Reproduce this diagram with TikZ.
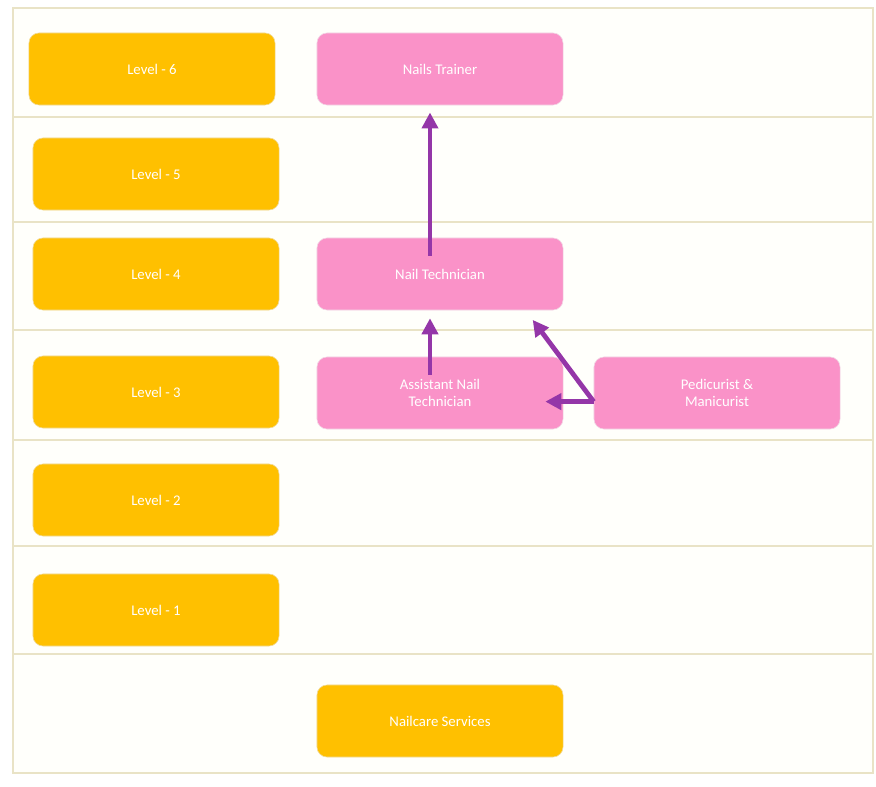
\documentclass[tikz,border=0pt]{standalone}
\usepackage{fontspec}
\setmainfont{Carlito}
\usetikzlibrary{positioning,arrows.meta}

\definecolor{levelorange}{HTML}{FFC000}
\definecolor{jobpink}{HTML}{FA92C8}
\definecolor{pathpurple}{HTML}{9436A8}
\definecolor{gridline}{HTML}{E9E3C6}

\begin{document}
\begin{tikzpicture}[x=0.025cm, y=-0.025cm,
        levelnode/.style={rectangle, rounded corners=0.25cm, fill=levelorange, draw=levelorange!85!black!40, thin, text=white, font=\fontsize{10.5}{12.5}\selectfont, minimum width=6.15cm, minimum height=1.8cm, align=center},
        jobnode/.style={levelnode, fill=jobpink, draw=jobpink!85!black!30},
        growth/.style={draw=pathpurple, line width=3.4pt, -{Triangle[length=0.4cm, width=0.4cm]}}]

        \useasboundingbox (0,0) rectangle (876,787);

        % frame of the table
        \fill[white!98.5!yellow] (13,8) rectangle (873,773);
        \draw[gridline, line width=1.4pt] (13,8) rectangle (873,773);
        \draw[gridline, line width=1.4pt] (13,117) -- (873,117);
        \draw[gridline, line width=1.4pt] (13,222) -- (873,222);
        \draw[gridline, line width=1.4pt] (13,330) -- (873,330);
        \draw[gridline, line width=1.4pt] (13,440) -- (873,440);
        \draw[gridline, line width=1.4pt] (13,546) -- (873,546);
        \draw[gridline, line width=1.4pt] (13,654) -- (873,654);

        % levels
        \node[levelnode] (lev6) at (152,69) {Level - 6};
        \node[levelnode] (lev5) at (156,174) {Level - 5};
        \node[levelnode] (lev4) at (156,274) {Level - 4};
        \node[levelnode] (lev3) at (156,392) {Level - 3};
        \node[levelnode] (lev2) at (156,500) {Level - 2};
        \node[levelnode] (lev1) at (156,610) {Level - 1};

        % jobs
        \node[jobnode] (trainer) at (440,69) {Nails Trainer};
        \node[jobnode] (tech) at (440,274) {Nail Technician};
        \node[jobnode] (assist) at (440,393) {Assistant Nail\\Technician};
        \node[jobnode] (pedi) at (717,393) {Pedicurist \&\\Manicurist};
        \node[levelnode] (services) at (440,721) {Nailcare Services};

        % paths
        \draw[growth, shorten <=-0.45cm, shorten >=0.18cm] ([xshift=-0.25cm]tech.north) -- ([xshift=-0.25cm]trainer.south);
        \draw[growth, shorten <=-0.45cm, shorten >=0.2cm] ([xshift=-0.25cm]assist.north) -- ([xshift=-0.25cm]tech.south);
        \draw[growth, shorten >=0.3cm] (pedi.184) -- (tech.-23);
        \draw[growth] (pedi.184) -- ([xshift=-0.45cm]assist.-4);

\end{tikzpicture}
\end{document}
